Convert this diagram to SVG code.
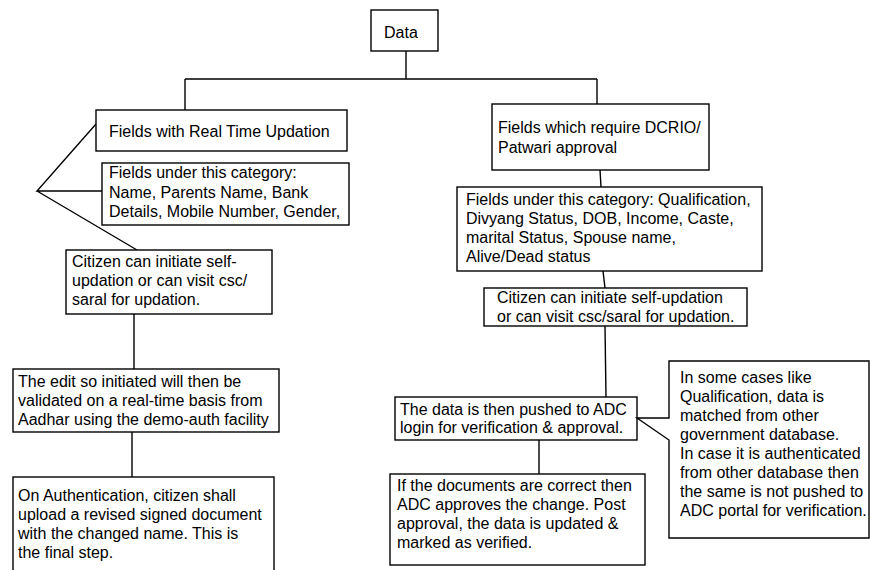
<svg xmlns="http://www.w3.org/2000/svg" width="870" height="570" viewBox="0 0 870 570">
<style>
.box{fill:#fff;stroke:#000;stroke-width:1.4}
.ln{fill:none;stroke:#000;stroke-width:1.4}
text{font-family:"Liberation Sans",Arial,sans-serif;font-size:16px;fill:#000}
</style>
<rect width="870" height="570" fill="#fff"/>
<g id="connectors">
<path class="ln" d="M406,51 V79 M185,79 H597 M185,79 V110 M597,79 V104"/>
<path class="ln" d="M96,124 L37,191 L102,191 M37,191 L137,250"/>
<path class="ln" d="M134,314 V369 M132,432 V477"/>
<path class="ln" d="M600,170 L601,187 M603,271 L605,288 M605,326 L606,397 M539,440 V474"/>
</g>
<g id="data"><rect class="box" x="371" y="10" width="67" height="41"/><text x="384" y="38">Data</text></g>
<g id="realtime"><rect class="box" x="96" y="110" width="251" height="41"/><text x="109" y="137">Fields with Real Time Updation</text></g>
<g id="cat-left"><rect class="box" x="102" y="163" width="247" height="62"/><text x="109" y="178">Fields under this category:<tspan x="109" dy="19.5">Name, Parents Name, Bank</tspan><tspan x="109" dy="19.5">Details, Mobile Number, Gender,</tspan></text></g>
<g id="citizen-left"><rect class="box" x="66" y="250" width="206" height="64"/><text x="72" y="267">Citizen can initiate self-<tspan x="72" dy="19">updation or can visit csc/</tspan><tspan x="72" dy="19">saral for updation.</tspan></text></g>
<g id="edit"><rect class="box" x="13" y="369" width="266" height="63"/><text x="18" y="387">The edit so initiated will then be<tspan x="18" dy="19">validated on a real-time basis from</tspan><tspan x="18" dy="19">Aadhar using the demo-auth facility</tspan></text></g>
<g id="final"><rect class="box" x="13" y="477" width="261" height="100"/><text x="18" y="501">On Authentication, citizen shall<tspan x="18" dy="19">upload a revised signed document</tspan><tspan x="18" dy="19">with the changed name. This is</tspan><tspan x="18" dy="19">the final step.</tspan></text></g>
<g id="dcrio"><rect class="box" x="492" y="104" width="217" height="66"/><text x="498" y="133">Fields which require DCRIO/<tspan x="498" dy="20">Patwari approval</tspan></text></g>
<g id="cat-right"><rect class="box" x="457" y="187" width="305" height="84"/><text x="466" y="205">Fields under this category: Qualification,<tspan x="466" dy="19">Divyang Status, DOB, Income, Caste,</tspan><tspan x="466" dy="19">marital Status, Spouse name,</tspan><tspan x="466" dy="19">Alive/Dead status</tspan></text></g>
<g id="citizen-right"><rect class="box" x="484" y="288" width="263" height="38"/><text x="497" y="303">Citizen can initiate self-updation<tspan x="497" dy="19">or can visit csc/saral for updation.</tspan></text></g>
<g id="adc"><rect class="box" x="395" y="397" width="242" height="43"/><text x="400" y="415">The data is then pushed to ADC<tspan x="400" dy="18">login for verification &amp; approval.</tspan></text></g>
<g id="approve"><rect class="box" x="390" y="474" width="255" height="91"/><text x="397" y="491">If the documents are correct then<tspan x="397" dy="19">ADC approves the change. Post</tspan><tspan x="397" dy="19">approval, the data is updated &amp;</tspan><tspan x="397" dy="19">marked as verified.</tspan></text></g>
<g id="callout"><path class="box" d="M669,361 H869 V538 H669 V440 L637,418 H669 Z"/><text x="680" y="383">In some cases like<tspan x="680" dy="19">Qualification, data is</tspan><tspan x="680" dy="19">matched from other</tspan><tspan x="680" dy="19">government database.</tspan><tspan x="680" dy="19">In case it is authenticated</tspan><tspan x="680" dy="19">from other database then</tspan><tspan x="680" dy="19">the same is not pushed to</tspan><tspan x="680" dy="19">ADC portal for verification.</tspan></text></g>
</svg>
